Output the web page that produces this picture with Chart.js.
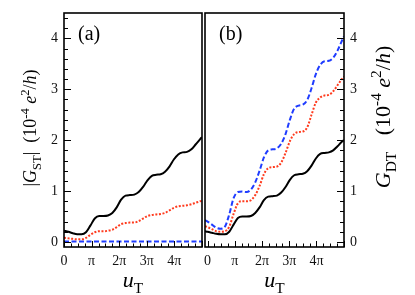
<!DOCTYPE html>
<html>
<head>
<meta charset="utf-8">
<script src="https://cdn.jsdelivr.net/npm/chart.js@4.4.1/dist/chart.umd.min.js"></script>
<style>
  html, body { margin: 0; padding: 0; background: #fff; }
  #wrap { position: relative; width: 415px; height: 295px; }
  canvas { position: absolute; left: 0; top: 0; }
</style>
</head>
<body>
<div id="wrap">
  <canvas id="chartA" width="415" height="295"></canvas>
  <canvas id="chartB" width="415" height="295"></canvas>
</div>
<script>
var PI = Math.PI;

// panel (a): |G_ST| vs u_T
var uA = [0, 0.5, 1, 1.5, 2, 2.5, 3, 3.5, 4, 4.5, 5, 5.5, 6, 6.5, 7, 7.5, 8,
  8.5, 9, 9.5, 10, 10.5, 11, 11.5, 12, 12.5, 13, 13.5, 14, 14.5, 15, 15.5, 15.71];
var gstBlack = [0.22, 0.20, 0.17, 0.15, 0.15, 0.19, 0.32, 0.46, 0.51, 0.51, 0.52,
  0.57, 0.68, 0.83, 0.91, 0.92, 0.93, 0.98, 1.08, 1.21, 1.30, 1.32, 1.33, 1.38,
  1.48, 1.62, 1.72, 1.76, 1.77, 1.82, 1.92, 2.02, 2.06];
var gstRed = [0.08, 0.07, 0.06, 0.05, 0.05, 0.08, 0.14, 0.19, 0.21, 0.21, 0.22,
  0.24, 0.29, 0.35, 0.37, 0.38, 0.38, 0.41, 0.46, 0.51, 0.53, 0.54, 0.55, 0.57,
  0.62, 0.67, 0.70, 0.71, 0.72, 0.74, 0.77, 0.80, 0.81];
var gstBlue = [0.01, 0.01, 0.01, 0.01, 0.01, 0.01, 0.01, 0.01, 0.01, 0.01, 0.01,
  0.01, 0.01, 0.01, 0.01, 0.01, 0.01, 0.01, 0.01, 0.01, 0.01, 0.01, 0.01, 0.01,
  0.01, 0.01, 0.01, 0.01, 0.01, 0.01, 0.01, 0.01, 0.01];

// panel (b): G_DT vs u_T
var uB = [-0.3, 0, 0.5, 1, 1.5, 2, 2.5, 3, 3.5, 4, 4.5, 5, 5.5, 6, 6.5, 7, 7.5, 8,
  8.5, 9, 9.5, 10, 10.5, 11, 11.5, 12, 12.5, 13, 13.5, 14, 14.5, 15, 15.5, 15.75];
var gdtBlack = [0.21, 0.20, 0.18, 0.16, 0.15, 0.15, 0.20, 0.34, 0.47, 0.50, 0.50,
  0.51, 0.57, 0.68, 0.82, 0.89, 0.90, 0.91, 0.97, 1.08, 1.22, 1.31, 1.33, 1.34,
  1.39, 1.50, 1.64, 1.73, 1.75, 1.76, 1.80, 1.88, 1.97, 2.00];
var gdtRed = [0.31, 0.29, 0.25, 0.21, 0.20, 0.21, 0.30, 0.55, 0.76, 0.80, 0.80,
  0.82, 0.92, 1.10, 1.33, 1.45, 1.47, 1.48, 1.56, 1.75, 1.98, 2.12, 2.16, 2.17,
  2.25, 2.50, 2.74, 2.84, 2.88, 2.89, 2.96, 3.08, 3.20, 3.25];
var gdtBlue = [0.43, 0.40, 0.34, 0.28, 0.26, 0.30, 0.54, 0.86, 0.98, 0.99, 0.98,
  1.03, 1.17, 1.40, 1.66, 1.80, 1.82, 1.84, 1.93, 2.12, 2.40, 2.62, 2.68, 2.70,
  2.79, 3.02, 3.30, 3.48, 3.55, 3.56, 3.62, 3.76, 3.95, 4.04];

// axes
var xTickValues = [0, PI, 2 * PI, 3 * PI, 4 * PI];
var xTickLabels = ["0", "\u03c0", "2\u03c0", "3\u03c0", "4\u03c0"];
var yTickValues = [0, 1, 2, 3, 4];
var yTickLabels = ["0", "1", "2", "3", "4"];
var xMinorStep = PI / 4;
var yMinorStep = 0.2;

var SERIF = "'Liberation Serif', 'DejaVu Serif', serif";

function pts(xs, ys) {
  return xs.map(function (x, i) { return { x: x, y: ys[i] }; });
}

function lineSet(xs, ys, color, dash) {
  return {
    data: pts(xs, ys),
    borderColor: color,
    borderWidth: 2,
    borderDash: dash,
    pointRadius: 0,
    fill: false,
    cubicInterpolationMode: "monotone"
  };
}

// rich text: parts drawn along a baseline, optionally rotated
function richText(ctx, parts, cx, cy, size, rot) {
  var total = 0;
  parts.forEach(function (p) {
    var s = p.s ? size * 0.7 : size;
    p.font = (p.i ? "italic " : "") + s + "px " + SERIF;
    ctx.font = p.font;
    p.w = ctx.measureText(p.t).width;
    total += p.w;
  });
  ctx.save();
  ctx.translate(cx, cy);
  ctx.rotate(rot || 0);
  ctx.fillStyle = "#000";
  ctx.textBaseline = "alphabetic";
  ctx.textAlign = "left";
  var x = -total / 2;
  parts.forEach(function (p) {
    var dy = p.s === "sub" ? size * 0.25 : p.s === "sup" ? -size * 0.4 : 0;
    ctx.font = p.font;
    ctx.fillText(p.t, x, dy);
    x += p.w;
  });
  ctx.restore();
}

// frame + inward major/minor ticks + titles
var framePlugin = {
  id: "frame",
  afterDraw: function (chart) {
    var ctx = chart.ctx, a = chart.chartArea;
    var xs = chart.scales.x, ys = chart.scales.y;
    var side = chart.options.scales.y.position;
    ctx.save();
    ctx.strokeStyle = "#000";
    ctx.lineWidth = 1;
    ctx.beginPath();
    for (var k = Math.ceil(xs.min / xMinorStep); k * xMinorStep <= xs.max; k++) {
      var px = Math.round(xs.getPixelForValue(k * xMinorStep)) + 0.5;
      var len = k % 4 === 0 ? 6 : 3.5;
      ctx.moveTo(px, a.bottom);
      ctx.lineTo(px, a.bottom - len);
    }
    for (var j = Math.ceil(ys.min / yMinorStep - 1e-9); j * yMinorStep <= ys.max + 1e-9; j++) {
      var py = Math.round(ys.getPixelForValue(j * yMinorStep)) + 0.5;
      var ln = j % 5 === 0 ? 7 : 4;
      if (side === "left") {
        ctx.moveTo(a.left, py);
        ctx.lineTo(a.left + ln, py);
      } else {
        ctx.moveTo(a.right, py);
        ctx.lineTo(a.right - ln, py);
      }
    }
    ctx.stroke();
    ctx.lineWidth = 1.6;
    ctx.strokeRect(a.left, a.top, a.right - a.left, a.bottom - a.top);

    var t = chart.options.plugins.frame;
    var midX = (a.left + a.right) / 2;
    richText(ctx, [{ t: "u", i: 1 }, { t: "T", s: "sub" }], midX, 287, 22, 0);
    richText(ctx, t.yTitle, t.yTitleX, t.yTitleY, t.yTitleSize, -PI / 2);
    ctx.font = "20px " + SERIF;
    ctx.fillStyle = "#000";
    ctx.textAlign = "left";
    ctx.textBaseline = "alphabetic";
    ctx.fillText(t.panel, a.left + 14, 40);
    ctx.restore();
  }
};

function makeChart(id, sets, o) {
  return new Chart(document.getElementById(id), {
    type: "line",
    data: { datasets: sets },
    options: {
      responsive: false,
      animation: false,
      events: [],
      layout: { padding: o.padding },
      plugins: {
        legend: { display: false },
        tooltip: { enabled: false },
        frame: o.frame
      },
      scales: {
        x: {
          type: "linear",
          min: o.xmin,
          max: o.xmax,
          grid: { display: false, drawTicks: false },
          border: { display: false },
          afterBuildTicks: function (s) {
            s.ticks = xTickValues.map(function (v) { return { value: v }; });
          },
          afterFit: function (s) { s.height = 30; },
          ticks: {
            autoSkip: false,
            maxRotation: 0,
            padding: 7,
            color: "#111",
            font: { family: SERIF, size: 14, lineHeight: 1 },
            callback: function (v, i) { return xTickLabels[i]; }
          }
        },
        y: {
          position: o.yPos,
          min: -0.1,
          max: 4.5,
          grid: { display: false, drawTicks: false },
          border: { display: false },
          afterBuildTicks: function (s) {
            s.ticks = yTickValues.map(function (v) { return { value: v }; });
          },
          afterFit: function (s) { s.width = 40; },
          ticks: {
            autoSkip: false,
            padding: 6,
            color: "#111",
            font: { family: SERIF, size: 14, lineHeight: 1 },
            callback: function (v, i) { return yTickLabels[i]; }
          }
        }
      }
    },
    plugins: [framePlugin]
  });
}

var BLACK = "#000000", RED = "#ff3b1e", BLUE = "#1f3cff";
var DOT = [2, 1.6], DASH = [5, 2.5];

makeChart("chartA", [
  lineSet(uA, gstBlack, BLACK, []),
  lineSet(uA, gstRed, RED, DOT),
  lineSet(uA, gstBlue, BLUE, DASH)
], {
  padding: { left: 24, right: 213, top: 7, bottom: 18 },
  xmin: 0, xmax: 5 * PI, yPos: "left",
  frame: {
    panel: "(a)",
    yTitleX: 36, yTitleY: 128, yTitleSize: 18,
    yTitle: [{ t: "|" }, { t: "G", i: 1 }, { t: "ST", s: "sub" }, { t: "|" },
      { t: "  (10" }, { t: "-4", s: "sup" }, { t: " " }, { t: "e", i: 1 },
      { t: "2", s: "sup" }, { t: "/" }, { t: "h", i: 1 }, { t: ")" }]
  }
});

makeChart("chartB", [
  lineSet(uB, gdtBlack, BLACK, []),
  lineSet(uB, gdtRed, RED, DOT),
  lineSet(uB, gdtBlue, BLUE, DASH)
], {
  padding: { left: 205, right: 31, top: 7, bottom: 18 },
  xmin: -0.3, xmax: 15.75, yPos: "right",
  frame: {
    panel: "(b)",
    yTitleX: 390, yTitleY: 117, yTitleSize: 22,
    yTitle: [{ t: "G", i: 1 }, { t: "DT", s: "sub" },
      { t: "   (10" }, { t: "-4", s: "sup" }, { t: " " }, { t: "e", i: 1 },
      { t: "2", s: "sup" }, { t: "/" }, { t: "h", i: 1 }, { t: ")" }]
  }
});
</script>
</body>
</html>
